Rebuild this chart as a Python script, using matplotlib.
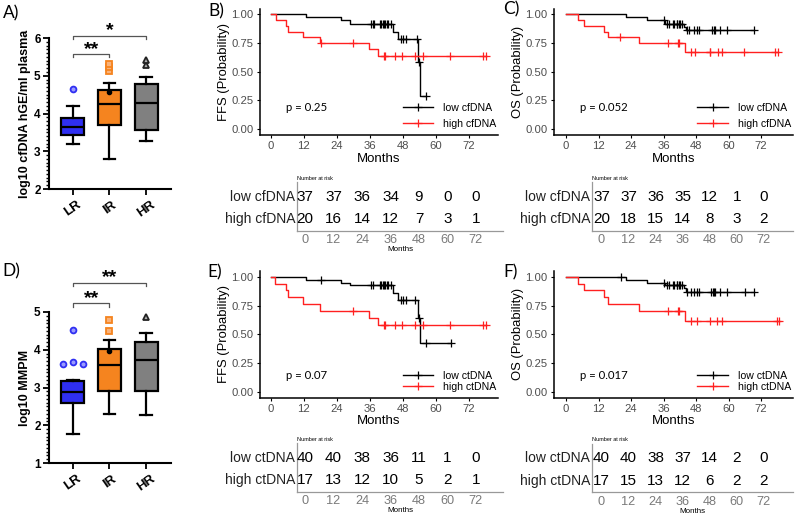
import numpy as np
import matplotlib
matplotlib.use("Agg")
import matplotlib.pyplot as plt
from matplotlib.ticker import MultipleLocator
from matplotlib.lines import Line2D
import matplotlib.transforms as mtransforms

plt.rcParams["font.family"] = ["Liberation Sans", "DejaVu Sans"]

W, H = 799, 517

# ---------------- box plots (log10 values) ----------------
groups = ["LR", "IR", "HR"]
box_colors = ["#2f2ff2", "#f5841f", "#808080"]
flier_faces = ["#9a9aff", "#f9b27a", "#b0b0b0"]
flier_edges = ["#2f2ff2", "#f5841f", "#222222"]
flier_markers = ["o", "s", "^"]

# (whisker low, q1, median, q3, whisker high)
cfdna_boxes = [(3.19, 3.43, 3.64, 3.88, 4.19),
               (2.80, 3.69, 4.26, 4.63, 4.82),
               (3.27, 3.57, 4.27, 4.78, 4.96)]
cfdna_outliers = [[4.65], [5.13, 5.22, 5.32], [5.28, 5.42]]
cfdna_dots = [None, 4.56, None]
cfdna_sig = [(0, 1, 5.58, "**"), (0, 2, 6.06, "*")]

mmpm_boxes = [(1.76, 2.59, 2.88, 3.16, 3.21),
              (2.31, 2.92, 3.60, 4.03, 4.26),
              (2.28, 2.92, 3.73, 4.21, 4.44)]
mmpm_outliers = [[4.51, 3.61, 3.68, 3.61], [4.50, 4.80], [4.87]]
mmpm_dots = [None, 3.98, None]
mmpm_sig = [(0, 1, 5.23, "**"), (0, 2, 5.78, "**")]

# ---------------- Kaplan-Meier curves: drop times, survival after drop ----------------
# B) FFS by cfDNA
b_low_t = [0, 12.6, 25.5, 28.8, 44.5, 46.4, 53.5, 54.3]
b_low_s = [1.0, 0.973, 0.946, 0.919, 0.850, 0.783, 0.587, 0.293]
b_low_end = 56.5
b_low_cens = [36.3, 37.0, 37.6, 39.7, 40.2, 40.7, 41.2, 41.7, 42.2, 42.7, 43.7,
              47.2, 48.1, 49.2, 53.1, 54.0, 56.5]
b_high_t = [0, 1.8, 5.5, 6.3, 11.8, 17.9, 35.8, 39.1]
b_high_s = [1.0, 0.95, 0.90, 0.85, 0.80, 0.75, 0.696, 0.638]
b_high_end = 78.3
b_high_cens = [18.3, 30.0, 41.0, 41.4, 45.3, 47.6, 52.6, 55.2, 65.2, 77.3, 78.3]

# C) OS by cfDNA
c_low_t = [0, 22.0, 29.8, 36.6, 43.6, 44.3]
c_low_s = [1.0, 0.973, 0.946, 0.919, 0.891, 0.864]
c_low_end = 69.5
c_low_cens = [36.3, 37.2, 38.2, 39.4, 40.0, 40.9, 41.1, 41.6, 42.1, 42.7, 44.5,
              45.3, 47.2, 48.2, 49.0, 53.8, 54.5, 55.1, 57.0, 59.3, 69.5]
c_high_t = [0, 4.6, 6.8, 14.0, 15.6, 26.8, 43.9]
c_high_s = [1.0, 0.95, 0.90, 0.85, 0.80, 0.748, 0.675]
c_high_end = 78.2
c_high_cens = [19.9, 37.8, 41.2, 41.7, 46.0, 47.8, 53.0, 53.3, 56.0, 57.5, 65.8, 77.2, 78.2]

# E) FFS by ctDNA
e_low_t = [0, 12.6, 25.5, 28.8, 44.5, 46.4, 53.5, 54.3]
e_low_s = [1.0, 0.975, 0.95, 0.925, 0.86, 0.80, 0.64, 0.427]
e_low_end = 65.6
e_low_cens = [18.2, 36.4, 37.3, 39.7, 40.2, 40.7, 41.2, 41.7, 42.2, 42.7, 43.7,
              47.2, 48.1, 49.2, 52.6, 54.0, 56.3, 65.6]
e_high_t = [0, 1.5, 5.5, 6.1, 11.8, 17.9, 35.8, 39.1]
e_high_s = [1.0, 0.941, 0.882, 0.824, 0.765, 0.706, 0.643, 0.579]
e_high_end = 78.3
e_high_cens = [30.0, 41.0, 41.4, 45.3, 47.6, 52.6, 55.2, 65.2, 77.3, 78.3]

# F) OS by ctDNA
f_low_t = [0, 22.0, 29.8, 36.6, 43.6, 44.3]
f_low_s = [1.0, 0.975, 0.95, 0.925, 0.898, 0.87]
f_low_end = 69.5
f_low_cens = [20.3, 36.3, 37.2, 38.2, 39.4, 40.0, 40.9, 41.1, 41.6, 42.1, 42.7, 44.5,
              46.0, 47.2, 48.2, 49.0, 53.5, 54.1, 54.6, 55.1, 57.0, 59.3, 66.0, 69.5]
f_high_t = [0, 4.6, 6.8, 14.0, 15.6, 26.8, 43.9]
f_high_s = [1.0, 0.941, 0.882, 0.824, 0.765, 0.706, 0.618]
f_high_end = 78.8
f_high_cens = [37.8, 41.2, 41.7, 46.0, 48.5, 53.2, 55.9, 57.5, 77.8, 78.8]

# ---------------- numbers at risk ----------------
risk_times = [0, 12, 24, 36, 48, 60, 72]
b_risk_low = [37, 37, 36, 34, 9, 0, 0]
b_risk_high = [20, 16, 14, 12, 7, 3, 1]
c_risk_low = [37, 37, 36, 35, 12, 1, 0]
c_risk_high = [20, 18, 15, 14, 8, 3, 2]
e_risk_low = [40, 40, 38, 36, 11, 1, 0]
e_risk_high = [17, 13, 12, 10, 5, 2, 1]
f_risk_low = [40, 40, 38, 37, 14, 2, 0]
f_risk_high = [17, 15, 13, 12, 6, 2, 2]


def px_axes(fig, x0, y0, x1, y1):
    return fig.add_axes([x0 / W, 1 - y1 / H, (x1 - x0) / W, (y1 - y0) / H])


def box_panel(ax, boxes, outliers, dots, sig, ylim, ylabel, jitter=None):
    stats = [dict(whislo=b[0], q1=b[1], med=b[2], q3=b[3], whishi=b[4], fliers=[])
             for b in boxes]
    pos = [1, 2, 3]
    art = ax.bxp(stats, positions=pos, widths=0.63, patch_artist=True, showfliers=False,
                 capwidths=0.32,
                 boxprops=dict(lw=1.6, edgecolor="black"),
                 medianprops=dict(lw=1.6, color="black"),
                 whiskerprops=dict(lw=1.6, color="black"),
                 capprops=dict(lw=1.6, color="black"))
    for patch, c in zip(art["boxes"], box_colors):
        patch.set_facecolor(c)
    for i, vals in enumerate(outliers):
        xs = [pos[i] + (jitter[i][k] if jitter else 0) for k in range(len(vals))]
        ax.plot(xs, vals, ls="none", marker=flier_markers[i], ms=4.2, mew=1.3,
                mfc=flier_faces[i], mec=flier_edges[i], clip_on=False, zorder=4)
        if dots[i] is not None:
            ax.plot(pos[i], dots[i], ls="none", marker="o", ms=3, color="black", zorder=4)
    for a, b, y, star in sig:
        xa, xb = pos[a], pos[b]
        ax.plot([xa, xa, xb, xb], [y - 0.09, y, y, y - 0.09], color="#555555", lw=0.9,
                clip_on=False)
        ax.text((xa + xb) / 2, y - 0.1, star, ha="center", va="bottom", fontsize=14,
                fontweight="bold")
    ax.set_xlim(0.35, 3.68)
    ax.set_ylim(*ylim)
    ax.set_xticks(pos)
    ax.set_xticklabels(groups, rotation=35, fontweight="bold", fontsize=9.5,
                       ha="center", va="top")
    ax.yaxis.set_major_locator(MultipleLocator(1))
    ax.yaxis.set_minor_locator(MultipleLocator(0.1))
    for lab in ax.get_yticklabels():
        lab.set_fontweight("bold")
    ax.tick_params(axis="y", which="major", length=4.5, width=1.3, labelsize=8.5, pad=1.5)
    ax.tick_params(axis="y", which="minor", length=2.2, width=1.0)
    ax.tick_params(axis="x", length=4, width=1.3, pad=3)
    for s in ["top", "right"]:
        ax.spines[s].set_visible(False)
    for s in ["left", "bottom"]:
        ax.spines[s].set_linewidth(1.5)
    ax.set_ylabel(ylabel, fontweight="bold", fontsize=9, labelpad=2)


def km_panel(ax, curves, xlim, p_text, p_y, ylabel, legend_y, labelspacing):
    handles = []
    for t, s, end, cens, color, label in curves:
        ax.step(list(t) + [end], list(s) + [s[-1]], where="post", color=color, lw=1.0)
        idx = np.searchsorted(t, cens, side="right") - 1
        ax.plot(cens, np.asarray(s)[idx], ls="none", marker="+", ms=6, mew=0.9, color=color)
        handles.append(Line2D([], [], color=color, lw=1.0, marker="+", ms=6, mew=0.9,
                              label=label))
    ax.set_xlim(*xlim)
    ax.set_ylim(-0.05, 1.05)
    ax.set_xticks(risk_times)
    ax.set_yticks([0, 0.25, 0.5, 0.75, 1.0])
    ax.set_yticklabels(["0.00", "0.25", "0.50", "0.75", "1.00"])
    ax.tick_params(length=2.5, width=0.8, labelsize=8.1, labelcolor="#4d4d4d", pad=2)
    for s in ["top", "right"]:
        ax.spines[s].set_visible(False)
    for s in ["left", "bottom"]:
        ax.spines[s].set_linewidth(1.1)
    ax.set_xlabel("Months", fontsize=9.5, labelpad=1)
    ax.set_ylabel(ylabel, fontsize=9.4, labelpad=1)
    ax.text(5.3, p_y, p_text, fontsize=8.2, family="Lato", ha="left", va="center")
    ax.legend(handles=handles, loc="center left", bbox_to_anchor=(0.60, legend_y),
              frameon=False, fontsize=7.6, handlelength=2.9, handletextpad=0.9,
              labelspacing=labelspacing, borderpad=0, borderaxespad=0)


def risk_panel(ax, xlim, low, high, labels, show_xlabel):
    ax.set_xlim(*xlim)
    ax.set_ylim(-0.52, 1.66)
    for x, n in zip(risk_times, low):
        ax.text(x, 1, str(n), ha="center", va="center", fontsize=11)
    for x, n in zip(risk_times, high):
        ax.text(x, 0, str(n), ha="center", va="center", fontsize=11)
    tr = mtransforms.blended_transform_factory(ax.transAxes, ax.transData)
    ax.text(-0.008, 1, labels[0], transform=tr, ha="right", va="center", fontsize=10,
            color="#222222")
    ax.text(-0.008, 0, labels[1], transform=tr, ha="right", va="center", fontsize=10,
            color="#222222")
    ax.set_yticks([])
    ax.set_xticks(risk_times)
    ax.tick_params(axis="x", length=0, labelsize=9.2, labelcolor="#7a7a7a", pad=2.5)
    for s in ["top", "right"]:
        ax.spines[s].set_visible(False)
    for s in ["left", "bottom"]:
        ax.spines[s].set_color("#999999")
        ax.spines[s].set_linewidth(0.9)
    ax.text(0.0, 1.03, "Number at risk", transform=ax.transAxes, fontsize=4,
            va="bottom", ha="left")
    if show_xlabel:
        ax.set_xlabel("Months", fontsize=5.8, labelpad=0)


fig = plt.figure(figsize=(W / 100, H / 100), dpi=100)

# box panels
axA = px_axes(fig, 49, 38, 171, 189)
box_panel(axA, cfdna_boxes, cfdna_outliers, cfdna_dots, cfdna_sig, (2, 6),
          "log10 cfDNA hGE/ml plasma")
axD = px_axes(fig, 49, 312, 171, 463)
box_panel(axD, mmpm_boxes, mmpm_outliers, mmpm_dots, mmpm_sig, (1, 5), "log10 MMPM",
          jitter=[[0, -0.28, 0, 0.28], [0, 0], [0]])

# KM panels
axB = px_axes(fig, 260, 8.5, 498, 135)
km_panel(axB, [(b_low_t, b_low_s, b_low_end, b_low_cens, "black", "low cfDNA"),
               (b_high_t, b_high_s, b_high_end, b_high_cens, "#ff2020", "high cfDNA")],
         (-4.0, 82.7), "p = 0.25", 0.185, "FFS (Probability)", 0.15, 0.6)
axC = px_axes(fig, 554, 8.5, 793, 135)
km_panel(axC, [(c_low_t, c_low_s, c_low_end, c_low_cens, "black", "low cfDNA"),
               (c_high_t, c_high_s, c_high_end, c_high_cens, "#ff2020", "high cfDNA")],
         (-4.43, 83.8), "p = 0.052", 0.185, "OS (Probability)", 0.15, 0.6)
axE = px_axes(fig, 260, 271, 498, 397.5)
km_panel(axE, [(e_low_t, e_low_s, e_low_end, e_low_cens, "black", "low ctDNA"),
               (e_high_t, e_high_s, e_high_end, e_high_cens, "#ff2020", "high ctDNA")],
         (-4.0, 82.7), "p = 0.07", 0.145, "FFS (Probability)", 0.13, 0.1)
axF = px_axes(fig, 554, 271, 793, 397.5)
km_panel(axF, [(f_low_t, f_low_s, f_low_end, f_low_cens, "black", "low ctDNA"),
               (f_high_t, f_high_s, f_high_end, f_high_cens, "#ff2020", "high ctDNA")],
         (-4.43, 83.8), "p = 0.017", 0.145, "OS (Probability)", 0.13, 0.1)

# risk tables
risk_panel(px_axes(fig, 297, 182, 503, 230.7), (-3.4, 83.4), b_risk_low, b_risk_high,
           ["low cfDNA", "high cfDNA"], True)
risk_panel(px_axes(fig, 591.7, 182, 793, 231), (-4.3, 84.9), c_risk_low, c_risk_high,
           ["low cfDNA", "high cfDNA"], False)
risk_panel(px_axes(fig, 297, 443, 503, 491.7), (-3.4, 83.4), e_risk_low, e_risk_high,
           ["low ctDNA", "high ctDNA"], True)
risk_panel(px_axes(fig, 591.7, 443.6, 793, 492.3), (-4.3, 84.9), f_risk_low, f_risk_high,
           ["low ctDNA", "high ctDNA"], True)

# panel letters
for lab, x, y in [("A)", 3, 13), ("B)", 208, 11), ("C)", 503, 9),
                  ("D)", 2, 271), ("E)", 207, 272), ("F)", 503, 272)]:
    fig.text(x / W, 1 - y / H, lab, fontsize=12.5, family="Lato", ha="left", va="center")

fig.savefig("out.png", dpi=100)
